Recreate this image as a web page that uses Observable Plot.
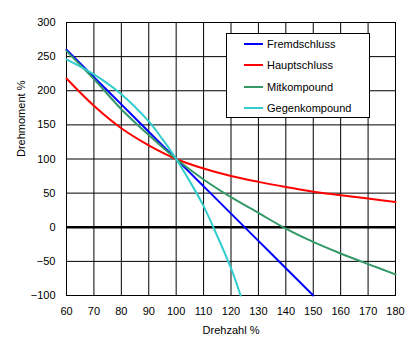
<!DOCTYPE html>
<html>
<head>
<meta charset="utf-8">
<script src="https://cdn.jsdelivr.net/npm/d3@7"></script>
<script src="https://cdn.jsdelivr.net/npm/@observablehq/plot@0.6"></script>
<style>
  html, body { margin: 0; padding: 0; background: #fff; }
  #wrap { position: relative; width: 410px; height: 353px; font-family: "Liberation Sans", Arial, sans-serif; font-size: 11px; }
  #legend { position: absolute; left: 226px; top: 33px; width: 144px; height: 85px; background: #fff; border: 1px solid #000; box-sizing: border-box; }
  .row { position: absolute; left: 0; height: 14px; display: flex; align-items: center; }
  .sw { width: 19px; height: 2px; margin-left: 17px; margin-right: 4px; }
</style>
</head>
<body>
<div id="wrap"><div id="legend"></div></div>
<script>
const xTicks = [60, 70, 80, 90, 100, 110, 120, 130, 140, 150, 160, 170, 180];
const yTicks = [-100, -50, 0, 50, 100, 150, 200, 250, 300];
const seriesNames = ["Fremdschluss", "Hauptschluss", "Mitkompound", "Gegenkompound"];
const seriesColors = ["#0000ff", "#ff0000", "#339966", "#33cccc"];

const fremdX = [60, 70, 80, 90, 100, 110, 120, 130, 140, 150];
const fremdY = [260, 220, 180, 140, 100, 60, 20, -20, -60, -100];

const hauptX = [60, 70, 80, 90, 100, 110, 120, 130, 140, 150, 160, 170, 180];
const hauptY = [218, 178, 145, 120, 100, 86, 75, 66.5, 59, 52, 47, 42, 37];

const mitX = [60, 70, 80, 90, 100, 110, 120, 130, 140, 150, 160, 170, 180];
const mitY = [258, 217, 173, 135, 100, 70, 44, 21, -2, -21.5, -38.5, -54, -69];

const gegenX = [60, 70, 80, 90, 95, 100, 105, 110, 115, 120, 123.5];
const gegenY = [246, 224, 195, 155, 129, 100, 67, 31, -13, -60, -100];

const xs = [fremdX, hauptX, mitX, gegenX];
const ys = [fremdY, hauptY, mitY, gegenY];
const data = [];
seriesNames.forEach((name, i) => {
  xs[i].forEach((x, j) => data.push({series: name, x, y: ys[i][j]}));
});

const chart = Plot.plot({
  width: 410,
  height: 353,
  marginLeft: 66,
  marginRight: 15,
  marginTop: 22,
  marginBottom: 58,
  style: {fontFamily: "'Liberation Sans', Arial, sans-serif", fontSize: "11px", background: "white", color: "black"},
  x: {domain: [60, 180]},
  y: {domain: [-100, 300]},
  color: {domain: seriesNames, range: seriesColors},
  marks: [
    Plot.gridX(xTicks, {stroke: "black", strokeOpacity: 1}),
    Plot.gridY(yTicks, {stroke: "black", strokeOpacity: 1}),
    Plot.ruleY([0], {stroke: "black", strokeWidth: 2.5}),
    Plot.frame({stroke: "black"}),
    Plot.axisX(xTicks, {tickSize: 0, tickPadding: 12, label: null}),
    Plot.axisY(yTicks, {tickSize: 0, tickPadding: 11, label: null}),
    Plot.text(["Drehzahl %"], {frameAnchor: "bottom", dy: 38, fill: "black"}),
    Plot.text(["Drehmoment %"], {frameAnchor: "left", rotate: -90, dx: -45, dy: -2, fill: "black"}),
    Plot.line(data, {x: "x", y: "y", z: "series", stroke: "series", strokeWidth: 2, curve: "catmull-rom"})
  ]
});
const wrap = document.getElementById("wrap");
wrap.insertBefore(chart, wrap.firstChild);

const legend = document.getElementById("legend");
const rowTops = [3, 24, 46, 67];
seriesNames.forEach((name, i) => {
  const row = document.createElement("div");
  row.className = "row";
  row.style.top = rowTops[i] + "px";
  const sw = document.createElement("div");
  sw.className = "sw";
  sw.style.background = seriesColors[i];
  const t = document.createElement("span");
  t.textContent = name;
  row.appendChild(sw);
  row.appendChild(t);
  legend.appendChild(row);
});
</script>
</body>
</html>
